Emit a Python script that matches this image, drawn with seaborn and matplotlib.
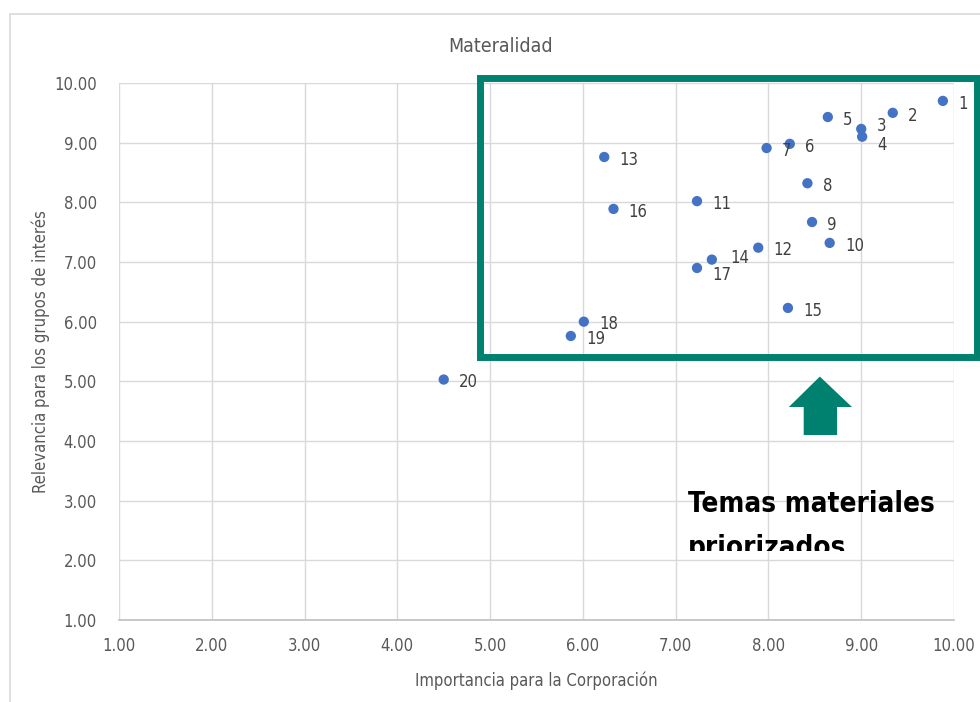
import matplotlib
matplotlib.use("Agg")
import matplotlib.pyplot as plt
from matplotlib.patches import Rectangle, Polygon
from matplotlib.transforms import Bbox
import seaborn as sns
import pandas as pd

# --- datos ---
temas = [str(i) for i in range(1, 21)]
importancia = [9.88, 9.34, 9.00, 9.01, 8.64, 8.23, 7.98, 8.42, 8.47, 8.66,
               7.23, 7.89, 6.23, 7.39, 8.21, 6.33, 7.23, 6.01, 5.87, 4.50]
relevancia = [9.70, 9.50, 9.23, 9.10, 9.43, 8.98, 8.91, 8.32, 7.67, 7.32,
              8.02, 7.24, 8.76, 7.04, 6.23, 7.89, 6.90, 6.00, 5.76, 5.03]
ticks = [1, 2, 3, 4, 5, 6, 7, 8, 9, 10]

df = pd.DataFrame({"Tema": temas, "x": importancia, "y": relevancia})

sns.set_style("white")
plt.rcParams["font.family"] = ["DejaVu Sans"]
plt.rcParams["font.stretch"] = "condensed"

GRIS = "#595959"
VERDE = "#00806E"
AZUL = "#4472C4"

fig = plt.figure(figsize=(9.8, 7.02), dpi=100)
ax = fig.add_axes([119 / 980, 1 - 620 / 702, (954 - 119) / 980, (620 - 83) / 702])

# marco exterior del grafico
fig.patches.append(Rectangle((10 / 980, -0.1), 1.2, 1 - 14 / 702 + 0.1,
                             transform=fig.transFigure, fill=False,
                             edgecolor="#D9D9D9", linewidth=1.2))

sns.scatterplot(data=df, x="x", y="y", ax=ax, color=AZUL, s=55,
                edgecolor="none", zorder=3, legend=False)

# pequeños ajustes para etiquetas muy juntas
ajuste = {"3": (11, 2), "4": (11, -6), "14": (13, 1), "17": (11, -5)}
for t, xv, yv in zip(df["Tema"], df["x"], df["y"]):
    ax.annotate(t, (xv, yv), xytext=ajuste.get(t, (11, -2)), textcoords="offset points",
                fontsize=12, color="#404040", va="center", ha="left",
                annotation_clip=False)

ax.set_xlim(1, 10)
ax.set_ylim(1, 10)
ax.set_xticks(ticks)
ax.set_yticks(ticks)
ax.set_xticklabels([f"{v:.2f}" for v in ticks])
ax.set_yticklabels([f"{v:.2f}" for v in ticks])
ax.tick_params(axis="both", length=0, labelsize=12, colors=GRIS)
ax.tick_params(axis="x", pad=12)
ax.tick_params(axis="y", pad=16)
ax.grid(True, color="#D9D9D9", linewidth=1)
ax.set_axisbelow(True)
for side in ["left", "top", "right"]:
    ax.spines[side].set_visible(False)
ax.spines["bottom"].set_color("#BFBFBF")
ax.spines["bottom"].set_linewidth(1.2)

ax.set_xlabel("Importancia para la Corporación", fontsize=12, color=GRIS, labelpad=12)
ax.set_ylabel("Relevancia para los grupos de interés", fontsize=12, color=GRIS, labelpad=3)
fig.text(501 / 980, 1 - 46 / 702, "Materalidad", fontsize=14, color=GRIS,
         ha="center", va="center")

# recuadro de temas priorizados
ax.add_patch(Rectangle((4.89, 5.41), 10.25 - 4.89, 10.08 - 5.41, fill=False,
                       edgecolor=VERDE, linewidth=5, clip_on=False, zorder=4))

# flecha hacia arriba
flecha = [(8.554, 5.08), (8.90, 4.57), (8.74, 4.57), (8.74, 4.10),
          (8.38, 4.10), (8.38, 4.57), (8.22, 4.57)]
ax.add_patch(Polygon(flecha, closed=True, facecolor=VERDE, edgecolor="none",
                     clip_on=False, zorder=4))

corte = Bbox([[0, 702 - 551], [980, 702]])
for linea, base in [("Temas materiales", 512), ("priorizados", 556)]:
    t = fig.text(688 / 980, 1 - base / 702, linea, fontsize=20,
                 fontweight="bold", color="black", ha="left", va="baseline")
    t.set_clip_box(corte)
    t.set_clip_on(True)

fig.savefig("out.png", dpi=100)
